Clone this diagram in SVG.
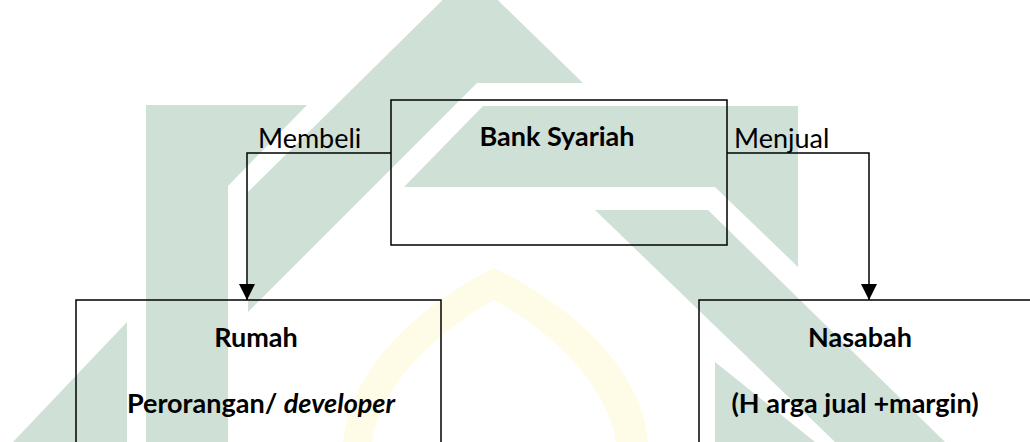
<svg xmlns="http://www.w3.org/2000/svg" width="1030" height="442" viewBox="0 0 1030 442">
  <defs>
    <style>
      .wm { fill: #cfe0d6; }
      .dome { fill: #fefbe6; }
      .box { fill: none; stroke: #000; stroke-width: 1.5; }
      .conn { fill: none; stroke: #000; stroke-width: 1.5; }
      .lbl { font-family: Lato, "Open Sans", "Liberation Sans", sans-serif; font-size: 27px; fill: #000; }
      .title { font-family: Lato, "Open Sans", "Liberation Sans", sans-serif; font-size: 27px; font-weight: bold; fill: #000; text-anchor: middle; }
    </style>
    <marker id="arrow" viewBox="0 0 16 16" refX="16" refY="8" markerWidth="16" markerHeight="16" markerUnits="userSpaceOnUse" orient="auto">
      <path d="M0,0 L16,8 L0,16 Z" fill="#000"/>
    </marker>
  </defs>
  <rect width="1030" height="442" fill="#fff"/>
  <g id="watermark">
    <path class="dome" d="M343,442 C352,360 430,300 494,268 C560,300 640,360 648,442 Z"/>
    <path fill="#fff" d="M372,442 C382,380 440,330 494,300 C548,330 606,380 616,442 Z"/>
    <polygon class="wm" points="13,442 127,322 127,442"/>
    <polygon class="wm" points="146,105 307,105 228,186 228,442 146,442"/>
    <polygon class="wm" points="470,-27 583,83 477,83 248,312 248,192"/>
    <polygon class="wm" points="483,106 798,106 798,267 715,187 404,187"/>
    <polygon class="wm" points="595,210 708,210 945,442 835,442"/>
    <polygon class="wm" points="715,362 815,442 715,442"/>
  </g>
  <g id="connectors">
    <polyline class="conn" points="391,153 247,153 247,300" marker-end="url(#arrow)"/>
    <polyline class="conn" points="727,153 869,153 869,300" marker-end="url(#arrow)"/>
    <text class="lbl" x="258" y="148">Membeli</text>
    <text class="lbl" x="734" y="148">Menjual</text>
  </g>
  <g id="node-bank">
    <rect class="box" x="391" y="100" width="336" height="145"/>
    <text class="title" x="557" y="146">Bank Syariah</text>
  </g>
  <g id="node-rumah">
    <rect class="box" x="76" y="300" width="365" height="170"/>
    <text class="title" x="256" y="347">Rumah</text>
    <text class="title" x="261" y="413">Perorangan/ <tspan font-style="italic">developer</tspan></text>
  </g>
  <g id="node-nasabah">
    <rect class="box" x="699" y="300" width="400" height="170"/>
    <text class="title" x="860" y="347">Nasabah</text>
    <text class="title" x="855" y="413">(H arga jual +margin)</text>
  </g>
</svg>
